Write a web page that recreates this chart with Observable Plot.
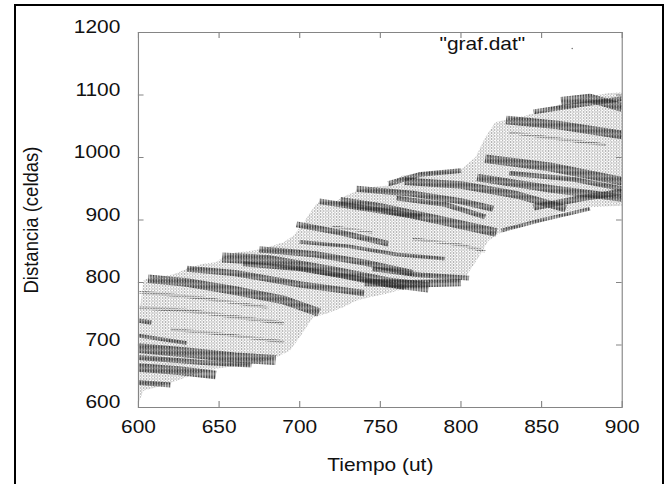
<!DOCTYPE html>
<html>
<head>
<meta charset="utf-8">
<script src="https://cdn.jsdelivr.net/npm/d3@7"></script>
<script src="https://cdn.jsdelivr.net/npm/@observablehq/plot@0.6"></script>
<style>
  html, body { margin: 0; padding: 0; background: #fff; width: 668px; height: 484px; overflow: hidden; }
  #wrap { position: absolute; left: 0; top: 0; transform-origin: 0 0; }
  #border { position: absolute; left: 14px; top: 4px; width: 650px; height: 520px; box-sizing: border-box;
            border: 2px solid #000; border-bottom: none; pointer-events: none; }
</style>
</head>
<body>
<div id="wrap"></div>
<div id="border"></div>
<script>
// ---- data ----
const xTicks = [600, 650, 700, 750, 800, 850, 900];
const yTicks = [600, 700, 800, 900, 1000, 1100, 1200];
const xLabel = "Tiempo (ut)";
const yLabel = "Distancia (celdas)";
const keyLabel = "\"graf.dat\"";

// front (upper) edge of the platoon: [tiempo, distancia]
const upperEdge = [[600,739],[603,803],[605,806],[614,810],[621.5,813],[630,822],[640,830],[648,832.5],
  [652.5,840.5],[660.7,848.5],[668,850],[677,854],[690,864.5],[696,875],[702,894],[706,910],[710.3,926],
  [722.7,931],[731,942],[743.4,952.5],[753.7,955],[763.4,971],[784,979],[800.6,982],[809,1000.5],
  [815,1032],[821.3,1056.5],[825.4,1059],[840,1067],[854.3,1078],[862.6,1086],[875,1096.5],
  [891.5,1103],[900,1104.5]];
// rear (lower) edge of the platoon
const lowerEdge = [[600,606],[603,627],[611,632.5],[623.6,643],[636,654],[648.3,662],[660.7,667],
  [673,670],[685.5,680.5],[693.8,691],[700,712.5],[704.1,728.5],[708.3,744.5],[716.5,750],[727,760.5],
  [735,771],[743.4,776.5],[753.7,782],[765,790],[778,798],[796.5,800.5],[802.7,808.5],[811,840.5],
  [817,867],[823.3,878],[833.7,888.5],[846,899],[862.6,912.5],[879,920.5],[900,923]];

// dense (jammed) streaks: polylines [tiempo, distancia]
const jams = [
  [[600,739],[608,736]],
  [[600,715],[615,709],[630,703]],
  [[600,695],[630,688],[660,680],[685,676]],
  [[600,664],[625,659],[648,652]],
  [[600,640],[620,636]],
  [[606,806],[630,800],[660,787],[690,772],[712,752]],
  [[630,822],[660,815],[700,797],[740,783]],
  [[652,840],[680,836],[720,818],[755,800],[780,792]],
  [[675,853],[710,845],[740,832],[770,815]],
  [[740,800],[770,798],[800,800]],
  [[745,822],[775,812],[805,807]],
  [[725,930],[750,920],[790,898],[822,880]],
  [[735,950],[770,942],[800,930],[820,918]],
  [[755,958],[775,973],[800,979]],
  [[815,998],[855,985],[900,962]],
  [[810,968],[855,950],[900,935]],
  [[765,962],[800,956],[835,940],[865,918]],
  [[828,1060],[860,1052],[900,1036]],
  [[862,1090],[880,1095],[900,1080]],
  [[712,930],[750,915],[775,905]],
  [[698,893],[725,880],[755,862]],
  [[700,865],[730,858],[760,845],[790,838]],
  [[845,920],[875,935],[900,945]],
  [[825,883],[850,900],[880,918]],
  [[665,830],[700,822],[740,805],[765,792]],
  [[600,680],[640,672],[670,668]],
  [[760,935],[790,925],[815,905]],
  [[830,975],[870,965],[900,950]],
  [[845,1073],[875,1085],[900,1094]]
];
// thickness of each streak, in cells
const jamCells = [7,6,16,14,8,14,10,16,10,12,8,14,10,8,14,12,12,14,14,9,9,6,10,6,8,8,8,8,8];

// fainter streaks inside the free-flow zones
const faint = [
  [[600,760],[630,755],[660,745],[690,735]],
  [[600,785],[640,775],[680,760]],
  [[620,725],[650,718],[690,705]],
  [[770,870],[800,860],[815,850]],
  [[830,1040],[860,1030],[890,1020]],
  [[720,890],[745,880]]
];
const faintCells = [6,5,5,5,5,4];

// ---- drawing ----
const S = 1.13;                       // horizontal stretch of the original picture
const W = Math.round(668 / S), H = 484, mL = Math.round(138 / S), mR = Math.round(W - 622 / S), mT = 32, mB = 77;
const innerW = W - mL - mR, innerH = H - mT - mB;
const pxPerCell = innerH / (1200 - 600);
const toObj = ([t, v]) => ({t, v});
const polygon = upperEdge.map(toObj).concat(lowerEdge.slice().reverse().map(toObj));
const gray = "#858585";
const font = "Liberation Sans, Arial, sans-serif";
const fs = 18.5;

const marks = [
  Plot.line(polygon, {x: "t", y: "v", fill: "url(#light)", stroke: "none", curve: "linear-closed", clip: true})
];
faint.forEach((pts, i) => {
  marks.push(Plot.line(pts.map(toObj), {x: "t", y: "v", stroke: "url(#mid)",
    strokeWidth: faintCells[i] * pxPerCell, strokeLinecap: "butt", strokeLinejoin: "round", clip: true}));
});
jams.forEach((pts, i) => {
  marks.push(Plot.line(pts.map(toObj), {x: "t", y: "v", stroke: "url(#dark)",
    strokeWidth: jamCells[i] * pxPerCell, strokeLinecap: "butt", strokeLinejoin: "round", clip: true}));
});
marks.push(
  Plot.frame({stroke: gray}),
  Plot.tickX(xTicks, {x: d => d, stroke: gray, insetTop: innerH - 6}),
  Plot.tickX(xTicks, {x: d => d, stroke: gray, insetBottom: innerH - 6}),
  Plot.tickY(yTicks, {y: d => d, stroke: gray, insetRight: innerW - 5}),
  Plot.tickY(yTicks, {y: d => d, stroke: gray, insetLeft: innerW - 5}),
  Plot.text(xTicks, {x: d => d, text: d => String(d), frameAnchor: "bottom", dy: 20, lineAnchor: "middle", fontSize: fs, fill: "#111"}),
  Plot.text(yTicks, {y: d => d, text: d => String(d), frameAnchor: "left", dx: -16, dy: -5, textAnchor: "end", fontSize: fs, fill: "#111"}),
  Plot.text([xLabel], {text: d => d, frameAnchor: "bottom", dy: 58, lineAnchor: "middle", fontSize: fs, fill: "#111"}),
  Plot.text([yLabel], {text: d => d, frameAnchor: "left", dx: -(138 - 31) / S, rotate: -90, textAnchor: "middle", lineAnchor: "middle", fontSize: fs, fill: "#111"}),
  Plot.text([keyLabel], {text: d => d, frameAnchor: "top-right", dx: -(622 - 525) / S, dy: 12, textAnchor: "end", lineAnchor: "middle", fontSize: fs, fill: "#111"}),
  Plot.dot([0], {frameAnchor: "top-right", dx: -(622 - 572) / S, dy: 16, r: 0.7, fill: "#777", stroke: "none"})
);

const chart = Plot.plot({
  width: W, height: H,
  marginLeft: mL, marginRight: mR, marginTop: mT, marginBottom: mB,
  x: {domain: [600, 900], axis: null},
  y: {domain: [600, 1200], axis: null},
  style: {fontFamily: font, background: "transparent", color: "#000"},
  marks
});
chart.insertAdjacentHTML("afterbegin",
  '<defs>' +
  '<pattern id="light" patternUnits="userSpaceOnUse" width="2.8" height="3">' +
    '<rect x="0" y="0" width="0.9" height="1" fill="#666"/>' +
    '<rect x="1.4" y="1.5" width="0.9" height="1" fill="#666"/>' +
  '</pattern>' +
  '<pattern id="mid" patternUnits="userSpaceOnUse" width="1.42" height="2.4">' +
    '<rect x="0" y="0" width="0.9" height="1" fill="#555"/>' +
  '</pattern>' +
  '<pattern id="dark" patternUnits="userSpaceOnUse" width="1.42" height="1.2">' +
    '<rect x="0" y="0" width="0.9" height="1.0" fill="#2a2a2a"/>' +
  '</pattern>' +
  '</defs>');
const wrap = document.getElementById("wrap");
wrap.style.transform = `scaleX(${668 / W})`;
wrap.appendChild(chart);
</script>
</body>
</html>
